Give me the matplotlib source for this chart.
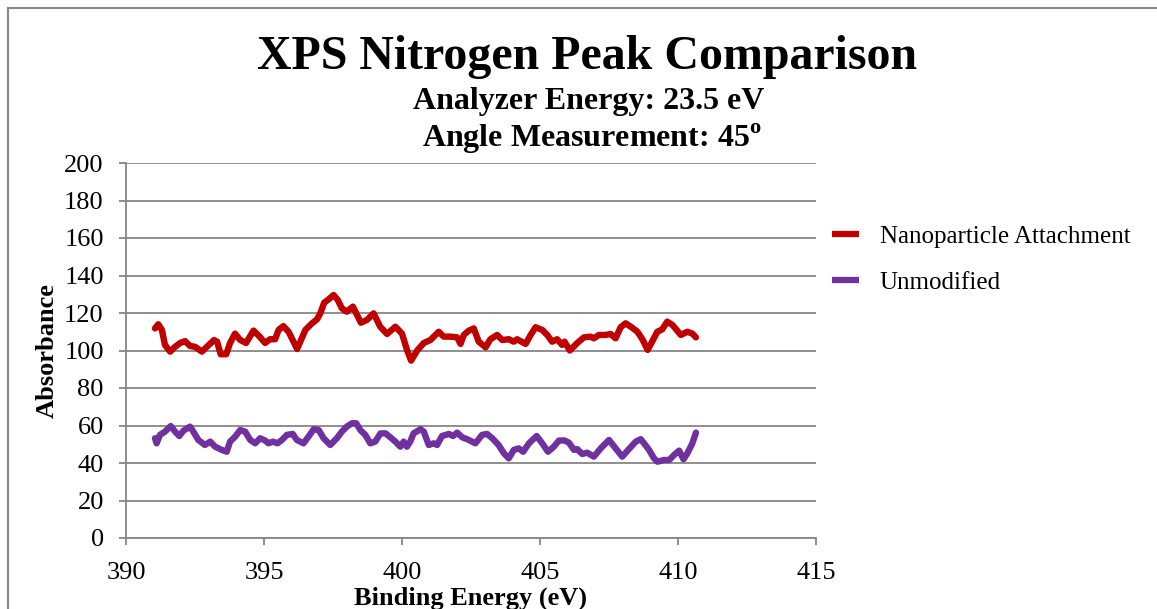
import numpy as np
import matplotlib
matplotlib.use('Agg')
import matplotlib.pyplot as plt
from matplotlib.patches import Rectangle
from matplotlib.lines import Line2D

plt.rcParams['font.family'] = ['Liberation Serif', 'DejaVu Serif']
plt.rcParams['mathtext.fontset'] = 'custom'
plt.rcParams['mathtext.bf'] = 'Liberation Serif:bold'
plt.rcParams['mathtext.rm'] = 'Liberation Serif'

# binding energy (eV) / absorbance
nanoX = [391.05, 391.17, 391.3, 391.41, 391.6, 391.78, 391.96, 392.14, 392.32, 392.5,
         392.75, 392.93, 393.19, 393.3, 393.43, 393.63, 393.77, 393.95, 394.14, 394.35,
         394.62, 394.84, 395.04, 395.22, 395.4, 395.53, 395.7, 395.89, 396.2, 396.5,
         396.74, 396.92, 397.04, 397.18, 397.34, 397.52, 397.67, 397.82, 398.0, 398.22,
         398.51, 398.73, 398.97, 399.21, 399.46, 399.76, 400.0, 400.18, 400.33, 400.55,
         400.79, 401.03, 401.33, 401.51, 401.76, 402.0, 402.12, 402.24, 402.42, 402.6,
         402.78, 403.03, 403.2, 403.45, 403.63, 403.87, 404.05, 404.17, 404.48, 404.66,
         404.84, 405.08, 405.26, 405.44, 405.62, 405.8, 405.89, 406.08, 406.35, 406.59,
         406.83, 406.95, 407.14, 407.38, 407.56, 407.74, 407.92, 408.1, 408.29, 408.53,
         408.71, 408.9, 409.0, 409.25, 409.43, 409.61, 409.8, 410.1, 410.34, 410.52, 410.65]
nanoY = [111.8, 114, 111, 103, 99.4, 102, 104, 105, 102.4, 102,
         99.4, 102, 105.6, 104.7, 98, 98, 104, 109, 105.6, 104,
         110.6, 107.4, 104, 106, 106, 111, 113, 110, 100.8, 111,
         114.5, 116.6, 119.8, 125.5, 127.3, 129.6, 127, 122.5, 120.7, 123.4,
         114.8, 116.3, 119.8, 112.7, 108.8, 112.7, 109, 100.3, 94.6, 100,
         104, 105.6, 110, 107.4, 107.4, 107, 103.5, 108.3, 110.6, 111.8,
         104.7, 101.7, 106, 108.3, 105.6, 106, 104.7, 106, 103.5, 108.3,
         112.4, 111, 108.3, 104.7, 106, 103, 104.7, 100, 104, 107,
         107.4, 106.5, 108.3, 108.3, 108.8, 106.5, 112.4, 114.5, 112.7, 110,
         106, 100.3, 103, 110, 111.3, 115.4, 113.6, 108.3, 110, 109, 107]

unmodX = [391.05, 391.11, 391.23, 391.41, 391.62, 391.78, 391.93, 392.08, 392.32, 392.44,
          392.62, 392.86, 393.05, 393.23, 393.47, 393.65, 393.77, 393.95, 394.14, 394.32,
          394.5, 394.68, 394.86, 395.04, 395.16, 395.32, 395.49, 395.65, 395.83, 396.04,
          396.19, 396.43, 396.61, 396.8, 396.98, 397.16, 397.4, 397.64, 397.82, 398.0,
          398.19, 398.34, 398.49, 398.67, 398.85, 399.03, 399.22, 399.4, 399.58, 399.76,
          399.94, 400.06, 400.18, 400.3, 400.42, 400.67, 400.79, 400.97, 401.15, 401.27,
          401.45, 401.7, 401.85, 402.0, 402.18, 402.36, 402.66, 402.9, 403.08, 403.27,
          403.5, 403.69, 403.87, 404.05, 404.23, 404.39, 404.6, 404.88, 405.08, 405.29,
          405.5, 405.69, 405.89, 406.05, 406.23, 406.35, 406.53, 406.71, 406.95, 407.2,
          407.5, 407.74, 407.98, 408.22, 408.47, 408.65, 408.77, 408.95, 409.13, 409.25,
          409.5, 409.68, 409.86, 410.04, 410.2, 410.34, 410.52, 410.65]
unmodY = [53.2, 50.5, 55, 56.7, 59.7, 56.7, 54.4, 57.2, 59.4, 56.7,
          52.3, 49.6, 51.4, 48.7, 47, 46, 51.4, 54, 57.6, 56.7,
          52.3, 50.5, 53.2, 52, 50.5, 51.4, 50.5, 52.3, 55, 55.5,
          52.3, 50.5, 54, 58, 57.6, 53.2, 49.6, 53.2, 56.7, 59.4,
          61.2, 61.2, 57.6, 55, 50.5, 51.4, 55.8, 55.8, 53.7, 51.4,
          48.7, 51.4, 48.7, 51.5, 55.8, 58, 56.7, 49.6, 50.5, 49.6,
          54.4, 55.5, 54.4, 56.2, 53.7, 52.7, 50.5, 55, 55.5, 53.2,
          49.6, 45.2, 42.5, 47, 47.8, 46, 50.5, 54.4, 50.5, 46,
          48.7, 52, 52, 50.8, 47, 47.4, 44.8, 45.5, 43.4, 47.8,
          52.3, 47.8, 43.4, 47.4, 51.4, 52.7, 50.5, 47, 42.5, 40.7,
          41.6, 41.6, 44.3, 46.6, 42, 45.2, 50.5, 56.2]

xTicks = [390, 395, 400, 405, 410, 415]
yTicks = list(range(0, 201, 20))
seriesNames = ['Nanoparticle Attachment', 'Unmodified']
seriesColors = ['#C00000', '#7030A0']

W, H = 1157, 609
fig = plt.figure(figsize=(W / 100, H / 100), dpi=100)

# outer chart frame (only top/left visible in the crop)
fig.patches.append(Rectangle((7.5 / W, -0.1), 1.2, 1 - 7.5 / H + 0.1, transform=fig.transFigure,
                             fill=False, edgecolor='#878787', lw=1.5))

ax = fig.add_axes([126 / W, 1 - 538 / H, (816 - 126) / W, (538 - 163) / H])
ax.plot(nanoX, nanoY, color=seriesColors[0], lw=4.6, solid_capstyle='round', solid_joinstyle='round')
ax.plot(unmodX, unmodY, color=seriesColors[1], lw=4.6, solid_capstyle='round', solid_joinstyle='round')

ax.set_xlim(390, 415)
ax.set_ylim(0, 200)
ax.set_xticks(xTicks)
ax.set_yticks(yTicks)
ax.grid(axis='y', color='#868686', lw=1.3)
ax.set_axisbelow(True)
for s in ['top', 'right']:
    ax.spines[s].set_visible(False)
for s in ['left', 'bottom']:
    ax.spines[s].set_color('#868686')
    ax.spines[s].set_linewidth(1.3)
ax.tick_params(colors='#868686', width=1.3, length=5, labelcolor='black', labelsize=19)
ax.tick_params(axis='y', pad=11)
ax.tick_params(axis='x', pad=12)

ax.set_xlabel('Binding Energy (eV)', fontsize=19, fontweight='bold', labelpad=2)
ax.set_ylabel('Absorbance', fontsize=19, fontweight='bold', labelpad=4)

fig.text(587 / W, 1 - 57 / H, 'XPS Nitrogen Peak Comparison', ha='center', va='center',
         fontsize=34.5, fontweight='bold')
fig.text(589 / W, 1 - 102 / H, 'Analyzer Energy: 23.5 eV', ha='center', va='center',
         fontsize=23, fontweight='bold')
fig.text(592 / W, 1 - 139 / H, 'Angle Measurement: 45$^{\\mathbf{o}}$', ha='center', va='center',
         fontsize=23, fontweight='bold')

handles = [Line2D([], [], color=c, lw=4.5, solid_capstyle='butt') for c in seriesColors]
ax.legend(handles, seriesNames, loc='upper left', bbox_to_anchor=(809 / W, 1 - 203 / H),
          bbox_transform=fig.transFigure, frameon=False, fontsize=18,
          handlelength=1.08, handletextpad=0.85, labelspacing=0.95)

fig.savefig('out.png', dpi=100)
